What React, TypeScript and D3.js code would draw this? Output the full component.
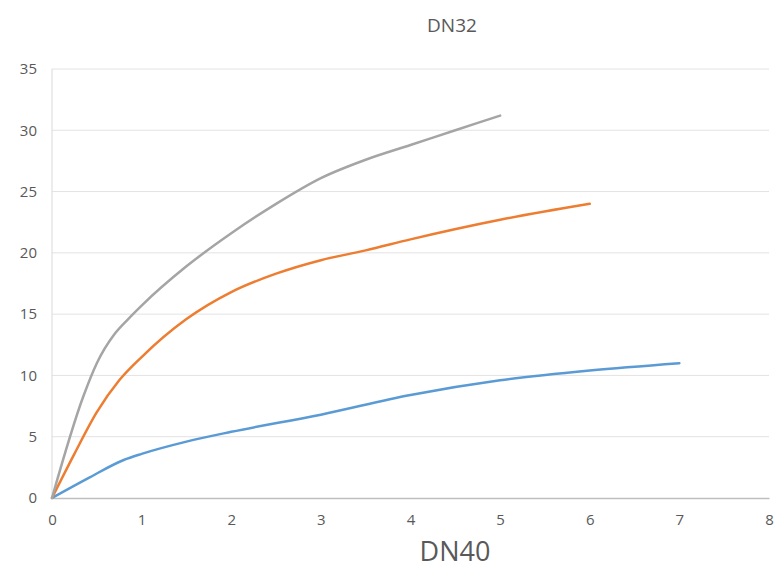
import React, { useEffect, useRef } from "react";
import * as d3 from "d3";

const title = "DN32";
const xTitle = "DN40";
const xTicks = [0, 1, 2, 3, 4, 5, 6, 7, 8];
const yTicks = [0, 5, 10, 15, 20, 25, 30, 35];

const grayX = [0, 0.35, 0.5, 0.7, 0.85, 1, 1.5, 2, 2.5, 3, 3.5, 4, 4.5, 5];
const grayY = [0, 8.3, 11, 13.4, 14.6, 15.7, 18.9, 21.6, 24, 26.1, 27.6, 28.8, 30, 31.2];
const orangeX = [0, 0.25, 0.5, 0.75, 1, 1.5, 2, 2.5, 3, 3.5, 4, 5, 6];
const orangeY = [0, 3.6, 7, 9.6, 11.5, 14.6, 16.8, 18.3, 19.4, 20.2, 21.1, 22.7, 24];
const blueX = [0, 0.4, 0.8, 1, 1.5, 2, 3, 4, 5, 6, 7];
const blueY = [0, 1.6, 3.1, 3.6, 4.6, 5.4, 6.8, 8.4, 9.6, 10.4, 11];

const series = [
  { name: "blue", color: "#5b9bd5", xs: blueX, ys: blueY },
  { name: "orange", color: "#ed7d31", xs: orangeX, ys: orangeY },
  { name: "gray", color: "#a5a5a5", xs: grayX, ys: grayY },
];

function Chart() {
  const svgRef = useRef<SVGSVGElement>(null);
  const width = 776;
  const height = 570;
  const margin = { top: 69, right: 7, bottom: 72, left: 52 };

  useEffect(() => {
    const svg = d3.select(svgRef.current);
    svg.selectAll("*").remove();
    const font = "'Open Sans', 'Noto Sans', sans-serif";

    const x = d3.scaleLinear().domain([0, 8]).range([margin.left, width - margin.right]);
    const y = d3.scaleLinear().domain([0, 35]).range([height - margin.bottom, margin.top]);

    // horizontal grid
    svg
      .append("g")
      .selectAll("line")
      .data(yTicks.filter((t) => t > 0))
      .join("line")
      .attr("x1", x(0))
      .attr("x2", x(8))
      .attr("y1", (d) => y(d))
      .attr("y2", (d) => y(d))
      .attr("stroke", "#e3e3e3")
      .attr("stroke-width", 1);

    // vertical axis line
    svg
      .append("line")
      .attr("x1", x(0))
      .attr("x2", x(0))
      .attr("y1", y(35))
      .attr("y2", y(0))
      .attr("stroke", "#d9d9d9");

    // x axis
    const xAxis = svg
      .append("g")
      .attr("transform", `translate(0,${y(0)})`)
      .call(d3.axisBottom(x).tickValues(xTicks).tickSize(0).tickPadding(16).tickFormat(d3.format("d")));
    xAxis.select(".domain").attr("stroke", "#bfbfbf").attr("stroke-width", 1.5);
    xAxis.selectAll("text").attr("fill", "#595959").attr("font-size", 15).attr("font-family", font);

    // y axis
    const yAxis = svg
      .append("g")
      .attr("transform", `translate(${x(0)},0)`)
      .call(d3.axisLeft(y).tickValues(yTicks).tickSize(0).tickPadding(15).tickFormat(d3.format("d")));
    yAxis.select(".domain").remove();
    yAxis.selectAll("text").attr("fill", "#595959").attr("font-size", 15).attr("font-family", font);

    const line = d3
      .line<[number, number]>()
      .x((d) => x(d[0]))
      .y((d) => y(d[1]))
      .curve(d3.curveMonotoneX);

    series.forEach((s) => {
      const pts = s.xs.map((v, i) => [v, s.ys[i]] as [number, number]);
      svg
        .append("path")
        .datum(pts)
        .attr("fill", "none")
        .attr("stroke", s.color)
        .attr("stroke-width", 2.5)
        .attr("stroke-linecap", "round")
        .attr("d", line);
    });

    svg
      .append("text")
      .attr("x", 452)
      .attr("y", 32)
      .attr("text-anchor", "middle")
      .attr("fill", "#595959")
      .attr("font-size", 19)
      .attr("font-family", font)
      .text(title);

    svg
      .append("text")
      .attr("x", 455)
      .attr("y", 561)
      .attr("text-anchor", "middle")
      .attr("fill", "#595959")
      .attr("font-size", 27)
      .attr("font-family", font)
      .text(xTitle);
  }, []);

  return (
    <svg
      ref={svgRef}
      width={width}
      height={height}
      style={{ position: "fixed", left: 0, top: 0, display: "block", background: "#fff" }}
    />
  );
}

export default function App() {
  return <Chart />;
}
